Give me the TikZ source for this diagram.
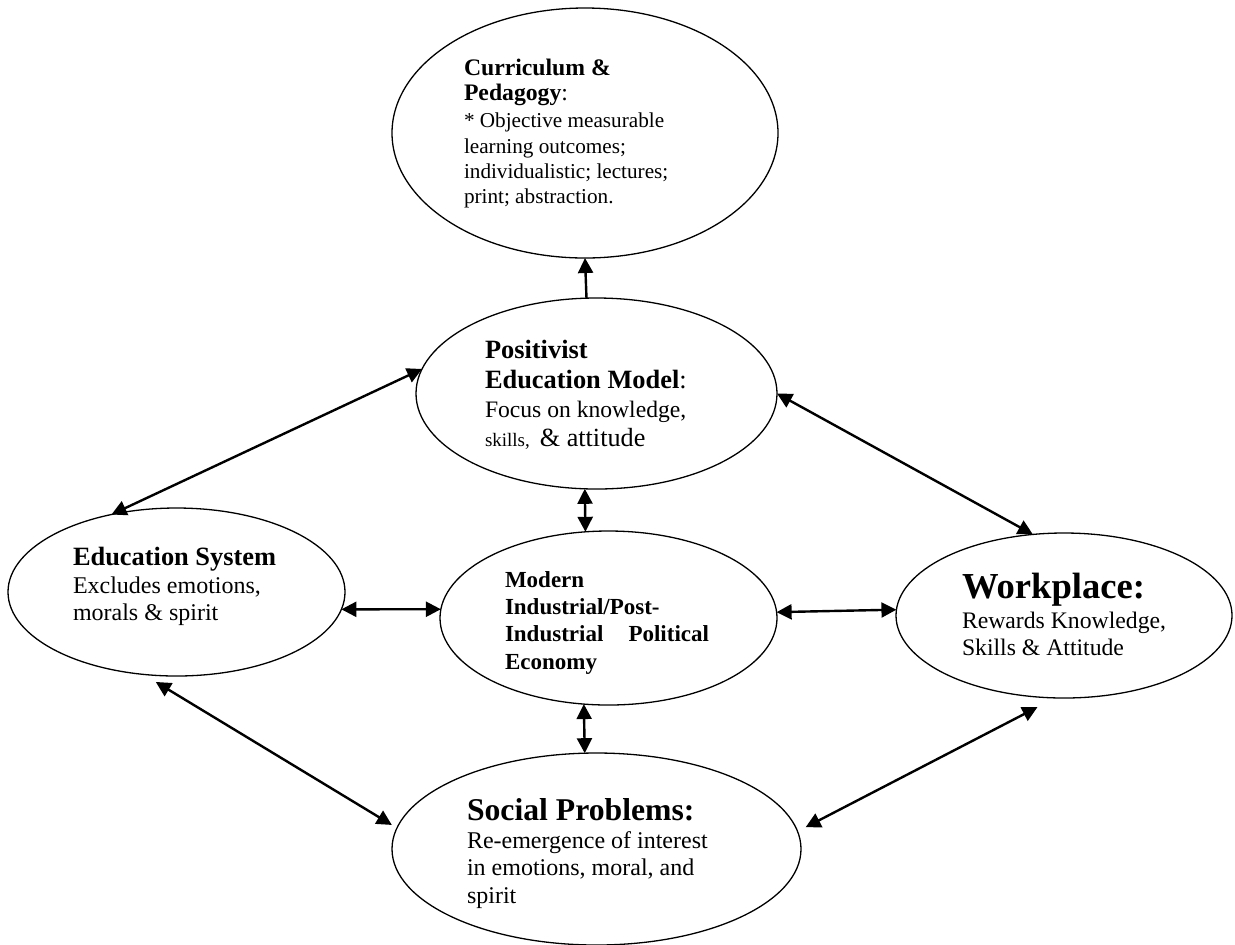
\documentclass[tikz,border=0pt]{standalone}
\usepackage{fontspec}
\setmainfont{Liberation Serif}
\usetikzlibrary{shapes.geometric,arrows.meta}
\newcommand\fsz[1]{\fontsize{#1}{#1}\selectfont}
\begin{document}
\begin{tikzpicture}[x=0.5pt,y=-0.5pt,
  ell/.style={draw, ellipse, line width=0.65pt, inner sep=0pt, outer sep=0pt},
  conn/.style={line width=1.2pt, {Triangle[length=7.5pt,width=7.5pt]}-{Triangle[length=7.5pt,width=7.5pt]}},
  oneway/.style={line width=1.2pt, -{Triangle[length=7.5pt,width=7.5pt]}},
  ln/.style={anchor=base west, inner sep=0pt, outer sep=0pt},
]
\useasboundingbox (0,0) rectangle (1235,944);

% ellipses
\node[ell, minimum width=193pt, minimum height=125pt] (cur) at (585,133) {};
\node[ell, minimum width=180.5pt, minimum height=95.5pt] (pos) at (596.5,393.5) {};
\node[ell, minimum width=168.5pt, minimum height=84pt] (edu) at (176.5,592) {};
\node[ell, minimum width=168.5pt, minimum height=87pt] (mod) at (608.5,618) {};
\node[ell, minimum width=168pt, minimum height=82.5pt] (wrk) at (1064,615.5) {};
\node[ell, minimum width=204.5pt, minimum height=96pt] (soc) at (596.5,849) {};

% texts
\node[ln] (cur1) at (464,75) {\fsz{11.85}\bfseries Curriculum \&};
\node[ln] (cur2) at (464,100) {\fsz{11.85}\textbf{Pedagogy}:};
\node[ln] (cur3) at (464,127) {\fsz{10.6}* Objective measurable};
\node[ln] (cur4) at (464,153) {\fsz{10.6}learning outcomes;};
\node[ln] (cur5) at (464,178) {\fsz{10.6}individualistic; lectures;};
\node[ln] (cur6) at (464,203) {\fsz{10.6}print; abstraction.};

\node[ln] (pos1) at (485,358) {\fsz{13.2}\bfseries Positivist};
\node[ln] (pos2) at (485,388) {\fsz{13.2}\textbf{Education Model}:};
\node[ln] (pos3) at (485,417) {\fsz{11.8}Focus on knowledge,};
\node[ln] (pos4) at (485,446) {{\fsz{9.5}skills,}\hspace{5pt}{\fsz{13.1}\& attitude}};

\node[ln] (edu1) at (73,565) {\fsz{13.2}\bfseries Education System};
\node[ln] (edu2) at (73,593) {\fsz{12}Excludes emotions,};
\node[ln] (edu3) at (73,620) {\fsz{12}morals \& spirit};

\node[ln] (mod1) at (505,587) {\fsz{11.5}\bfseries Modern};
\node[ln] (mod2) at (505,614) {\fsz{11.5}\bfseries Industrial/Post-};
\node[ln] (mod3) at (505,641) {\fsz{11.5}\bfseries \makebox[102pt][l]{Industrial\hfill Political}};
\node[ln] (mod4) at (505,669) {\fsz{11.5}\bfseries Economy};

\node[ln] (wrk1) at (962,598) {\fsz{18.3}\bfseries Workplace:};
\node[ln] (wrk2) at (962,628) {\fsz{11.85}Rewards Knowledge,};
\node[ln] (wrk3) at (962,655) {\fsz{11.85}Skills \& Attitude};

\node[ln] (soc1) at (467,820) {\fsz{15.85}\bfseries Social Problems:};
\node[ln] (soc2) at (467,848) {\fsz{12}Re-emergence of interest};
\node[ln] (soc3) at (467,875) {\fsz{12}in emotions, moral, and};
\node[ln] (soc4) at (467,903) {\fsz{12}spirit};

% connectors
\draw[oneway] (pos.96.87) -- (cur.south);
\draw[conn] (edu.130.5) -- (pos.172.6);
\draw[conn] (pos.-0.5) -- (wrk.111.7);
\draw[conn] (pos.263.1) -- (mod.105.1);
\draw[conn] (mod.254.3) -- (soc.97.42);
\draw[conn] (edu.-6.06) -- (mod.177.3);
\draw[conn] (mod.2.7) -- (wrk.178.1);
\draw[conn, shorten <=7.35pt, shorten >=3pt] (edu.248.4) -- (soc.174.03);
\draw[conn, shorten <=10.1pt, shorten >=4.55pt] (wrk.264.45) -- (soc.5.65);
\end{tikzpicture}
\end{document}
